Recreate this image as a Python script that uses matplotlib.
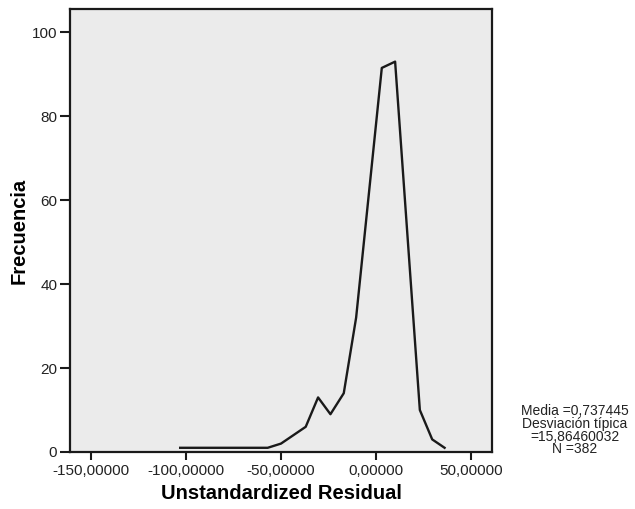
import matplotlib
matplotlib.use("Agg")
import matplotlib.pyplot as plt
from matplotlib.ticker import FuncFormatter

# frequency polygon vertices
residual = [-103, -57, -50, -37, -30.5, -24, -17, -10.5, 3, 10, 23, 29.5, 36]
freq = [1, 1, 2, 6, 13, 9, 14, 32, 91.5, 93, 10, 3, 1]

xticks = [-150, -100, -50, 0, 50]
yticks = [0, 20, 40, 60, 80, 100]
stats = ["Media =0,737445", "Desviación típica", "=15,86460032", "N =382"]

plt.rcParams['font.family'] = ['Liberation Sans', 'DejaVu Sans']

fig = plt.figure(figsize=(6.35, 5.09), dpi=100)
ax = fig.add_axes([0.110, 0.112, 0.665, 0.870])
ax.set_facecolor('#ebebeb')

ax.plot(residual, freq, color='#1a1a1a', lw=1.7)

ax.set_xlim(-161, 61)
ax.set_ylim(0, 105.5)
ax.set_xticks(xticks)
ax.set_yticks(yticks)
ax.xaxis.set_major_formatter(FuncFormatter(lambda v, p: ('%.5f' % v).replace('.', ',')))

for s in ax.spines.values():
    s.set_linewidth(1.6)
    s.set_color('#1a1a1a')
ax.tick_params(axis='both', direction='out', width=1.5, color='#1a1a1a',
               labelsize=11, labelcolor='#222222')
ax.tick_params(axis='y', length=7, pad=2)
ax.tick_params(axis='x', length=6, pad=3)

ax.set_xlabel('Unstandardized Residual', fontsize=14.5, fontweight='bold', labelpad=4)
ax.set_ylabel('Frecuencia', fontsize=14.5, fontweight='bold', labelpad=2)

fig.text(0.905, 0.155, "\n".join(stats), ha='center', va='center', fontsize=10,
         linespacing=0.9, color='#222222')

fig.savefig('out.png', dpi=100)
